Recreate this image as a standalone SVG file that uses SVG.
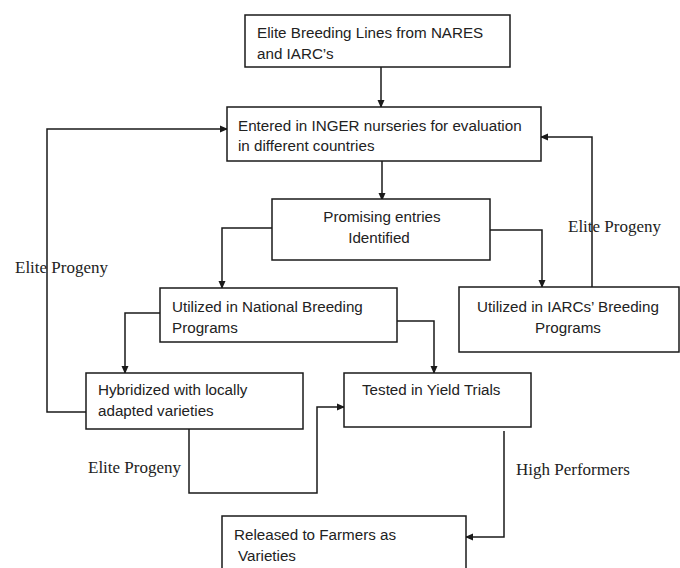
<svg xmlns="http://www.w3.org/2000/svg" width="680" height="568" viewBox="0 0 680 568">
<defs>
<marker id="ah" markerWidth="8" markerHeight="8" refX="7" refY="4" orient="auto" markerUnits="userSpaceOnUse">
<path d="M0,0.5 L8,4 L0,7.5 Z" fill="#1a1a1a"/>
</marker>
<style>
.box{fill:#fff;stroke:#1a1a1a;stroke-width:1.5}
.t{font-family:"Liberation Sans",Arial,sans-serif;font-size:15.2px;fill:#222}
.l{font-family:"Liberation Serif","Times New Roman",serif;font-size:17px;fill:#222}
.c{fill:none;stroke:#1a1a1a;stroke-width:1.5}
</style>
</defs>
<rect width="680" height="568" fill="#fff"/>
<g id="connectors">
<path class="c" d="M381,67 V107" marker-end="url(#ah)"/>
<path class="c" d="M382,161 V200" marker-end="url(#ah)"/>
<path class="c" d="M272,228 H222 V288" marker-end="url(#ah)"/>
<path class="c" d="M490,230 H542 V287" marker-end="url(#ah)"/>
<path class="c" d="M592,287 V137 H541" marker-end="url(#ah)"/>
<path class="c" d="M160,313 H125 V373" marker-end="url(#ah)"/>
<path class="c" d="M397,321 H434 V373" marker-end="url(#ah)"/>
<path class="c" d="M86,412 H47 V129 H227" marker-end="url(#ah)"/>
<path class="c" d="M189,429 V493 H317 V407 H344" marker-end="url(#ah)"/>
<path class="c" d="M504,431 V537 H466" marker-end="url(#ah)"/>
<text class="l" x="15" y="273">Elite Progeny</text>
<text class="l" x="568" y="232">Elite Progeny</text>
<text class="l" x="88" y="473">Elite Progeny</text>
<text class="l" x="516" y="475">High Performers</text>
</g>
<g id="n1"><rect class="box" x="245" y="15" width="265" height="52"/>
<text class="t" x="257" y="38">Elite Breeding Lines from NARES</text>
<text class="t" x="257" y="59">and IARC’s</text></g>
<g id="n2"><rect class="box" x="227" y="107" width="314" height="54"/>
<text class="t" x="238" y="131">Entered in INGER nurseries for evaluation</text>
<text class="t" x="238" y="151">in different countries</text></g>
<g id="n3"><rect class="box" x="272" y="199" width="218" height="61"/>
<text class="t" x="382" y="222" text-anchor="middle">Promising entries</text>
<text class="t" x="379" y="243" text-anchor="middle">Identified</text></g>
<g id="n4"><rect class="box" x="160" y="288" width="237" height="54"/>
<text class="t" x="172" y="312">Utilized in National Breeding</text>
<text class="t" x="172" y="333">Programs</text></g>
<g id="n5"><rect class="box" x="459" y="287" width="220" height="65"/>
<text class="t" x="568" y="312" text-anchor="middle">Utilized in IARCs’ Breeding</text>
<text class="t" x="568" y="333" text-anchor="middle">Programs</text></g>
<g id="n6"><rect class="box" x="86" y="373" width="217" height="56"/>
<text class="t" x="98" y="395">Hybridized with locally</text>
<text class="t" x="98" y="416">adapted varieties</text></g>
<g id="n7"><rect class="box" x="344" y="373" width="187" height="54"/>
<text class="t" x="362" y="395">Tested in Yield Trials</text></g>
<g id="n8"><rect class="box" x="222" y="516" width="244" height="60"/>
<text class="t" x="234" y="540">Released to Farmers as</text>
<text class="t" x="238" y="561">Varieties</text></g>
</svg>
